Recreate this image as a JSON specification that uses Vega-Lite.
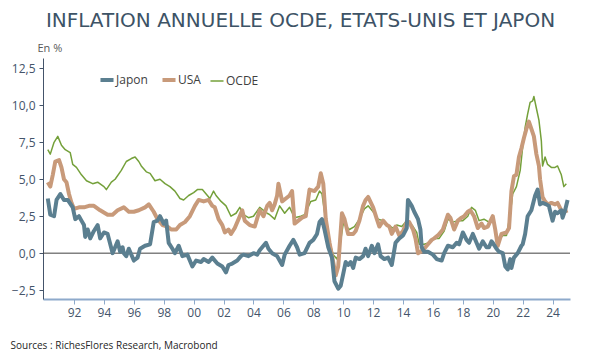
{
  "$schema": "https://vega.github.io/schema/vega-lite/v6.json",
  "width": 527,
  "height": 241,
  "autosize": {"type": "none"},
  "padding": {"left": 43, "top": 58, "right": 20, "bottom": 58},
  "background": "white",
  "title": {"text": "INFLATION ANNUELLE OCDE, ETATS-UNIS ET JAPON", "font": "DejaVu Sans", "fontSize": 20, "fontWeight": "normal", "color": "#3d5366", "anchor": "middle", "offset": 11, "dx": -6},
  "config": {
    "view": {"stroke": null},
    "font": "Open Sans",
    "axisX": {
      "labelOverlap": false,
      "titleX": -33, "titleY": 41, "titleAlign": "left", "titleAnchor": "start", "titleFontSize": 10, "titleFontWeight": "normal", "titleColor": "#262626", "titleFont": "Open Sans",
      "grid": false,
      "domainColor": "#8eaacb", "domainWidth": 2,
      "tickColor": "#8eaacb", "tickSize": 5, "tickWidth": 1,
      "labelColor": "#44546a", "labelFontSize": 12, "labelPadding": 3, "labelFont": "Open Sans"
    }
  },
  "datasets": {
    "series": [
      {"s":"Japon","d":"1990-04","v":3.7},{"s":"Japon","d":"1990-06","v":2.6},{"s":"Japon","d":"1990-09","v":2.5},{"s":"Japon","d":"1990-11","v":3.6},
      {"s":"Japon","d":"1991-02","v":4.0},{"s":"Japon","d":"1991-05","v":3.6},{"s":"Japon","d":"1991-08","v":3.6},{"s":"Japon","d":"1991-12","v":3.1},
      {"s":"Japon","d":"1992-02","v":2.3},{"s":"Japon","d":"1992-05","v":2.5},{"s":"Japon","d":"1992-07","v":2.2},{"s":"Japon","d":"1992-09","v":1.9},
      {"s":"Japon","d":"1992-10","v":1.1},{"s":"Japon","d":"1992-12","v":1.6},{"s":"Japon","d":"1993-02","v":1.0},{"s":"Japon","d":"1993-05","v":1.5},
      {"s":"Japon","d":"1993-08","v":1.9},{"s":"Japon","d":"1993-10","v":1.0},{"s":"Japon","d":"1994-01","v":1.4},{"s":"Japon","d":"1994-04","v":1.3},
      {"s":"Japon","d":"1994-08","v":0.0},{"s":"Japon","d":"1994-12","v":0.8},{"s":"Japon","d":"1995-02","v":0.1},{"s":"Japon","d":"1995-04","v":0.4},
      {"s":"Japon","d":"1995-05","v":0.0},{"s":"Japon","d":"1995-07","v":-0.2},{"s":"Japon","d":"1995-09","v":0.3},{"s":"Japon","d":"1996-01","v":-0.5},
      {"s":"Japon","d":"1996-04","v":-0.3},{"s":"Japon","d":"1996-06","v":0.3},{"s":"Japon","d":"1996-10","v":0.5},{"s":"Japon","d":"1997-02","v":0.6},
      {"s":"Japon","d":"1997-05","v":2.1},{"s":"Japon","d":"1997-08","v":2.2},{"s":"Japon","d":"1997-10","v":2.5},{"s":"Japon","d":"1998-01","v":2.0},
      {"s":"Japon","d":"1998-03","v":2.2},{"s":"Japon","d":"1998-05","v":0.7},{"s":"Japon","d":"1998-08","v":0.3},{"s":"Japon","d":"1998-10","v":0.0},
      {"s":"Japon","d":"1999-01","v":0.5},{"s":"Japon","d":"1999-04","v":-0.2},{"s":"Japon","d":"1999-08","v":-0.1},{"s":"Japon","d":"1999-12","v":-0.9},
      {"s":"Japon","d":"2000-03","v":-0.5},{"s":"Japon","d":"2000-07","v":-0.6},{"s":"Japon","d":"2000-09","v":-0.4},{"s":"Japon","d":"2001-01","v":-0.6},
      {"s":"Japon","d":"2001-04","v":-0.3},{"s":"Japon","d":"2001-08","v":-0.7},{"s":"Japon","d":"2001-12","v":-0.9},{"s":"Japon","d":"2002-03","v":-1.3},
      {"s":"Japon","d":"2002-05","v":-0.8},{"s":"Japon","d":"2002-08","v":-0.7},{"s":"Japon","d":"2002-12","v":-0.5},{"s":"Japon","d":"2003-03","v":-0.2},
      {"s":"Japon","d":"2003-05","v":-0.1},{"s":"Japon","d":"2003-09","v":-0.2},{"s":"Japon","d":"2004-01","v":0.0},{"s":"Japon","d":"2004-04","v":-0.1},
      {"s":"Japon","d":"2004-06","v":0.2},{"s":"Japon","d":"2004-11","v":0.7},{"s":"Japon","d":"2005-01","v":0.3},{"s":"Japon","d":"2005-04","v":0.0},
      {"s":"Japon","d":"2005-08","v":-0.2},{"s":"Japon","d":"2005-12","v":-0.8},{"s":"Japon","d":"2006-02","v":-0.1},{"s":"Japon","d":"2006-06","v":0.5},
      {"s":"Japon","d":"2006-09","v":0.9},{"s":"Japon","d":"2006-12","v":0.4},{"s":"Japon","d":"2007-02","v":-0.1},{"s":"Japon","d":"2007-06","v":0.0},
      {"s":"Japon","d":"2007-10","v":0.7},{"s":"Japon","d":"2008-01","v":0.9},{"s":"Japon","d":"2008-04","v":1.3},{"s":"Japon","d":"2008-06","v":2.1},
      {"s":"Japon","d":"2008-08","v":2.3},{"s":"Japon","d":"2008-10","v":1.6},{"s":"Japon","d":"2009-01","v":0.4},{"s":"Japon","d":"2009-04","v":-0.3},
      {"s":"Japon","d":"2009-06","v":-1.9},{"s":"Japon","d":"2009-09","v":-2.4},{"s":"Japon","d":"2009-11","v":-2.2},{"s":"Japon","d":"2010-01","v":-1.4},
      {"s":"Japon","d":"2010-03","v":-0.6},{"s":"Japon","d":"2010-05","v":-0.8},{"s":"Japon","d":"2010-07","v":-0.6},{"s":"Japon","d":"2010-09","v":-1.0},
      {"s":"Japon","d":"2010-11","v":-0.3},{"s":"Japon","d":"2011-02","v":-0.4},{"s":"Japon","d":"2011-05","v":-0.2},{"s":"Japon","d":"2011-07","v":0.3},
      {"s":"Japon","d":"2011-09","v":-0.2},{"s":"Japon","d":"2011-12","v":0.5},{"s":"Japon","d":"2012-02","v":0.0},{"s":"Japon","d":"2012-05","v":0.6},
      {"s":"Japon","d":"2012-07","v":-0.2},{"s":"Japon","d":"2012-10","v":-0.4},{"s":"Japon","d":"2013-01","v":-0.3},{"s":"Japon","d":"2013-04","v":-0.8},
      {"s":"Japon","d":"2013-07","v":0.7},{"s":"Japon","d":"2013-10","v":1.0},{"s":"Japon","d":"2014-01","v":1.2},{"s":"Japon","d":"2014-04","v":1.7},
      {"s":"Japon","d":"2014-05","v":3.6},{"s":"Japon","d":"2014-08","v":3.2},{"s":"Japon","d":"2014-10","v":2.8},{"s":"Japon","d":"2015-01","v":2.3},
      {"s":"Japon","d":"2015-03","v":1.6},{"s":"Japon","d":"2015-04","v":0.4},{"s":"Japon","d":"2015-06","v":0.1},{"s":"Japon","d":"2015-09","v":0.1},
      {"s":"Japon","d":"2016-01","v":-0.1},{"s":"Japon","d":"2016-04","v":-0.4},{"s":"Japon","d":"2016-08","v":-0.5},{"s":"Japon","d":"2016-10","v":0.0},
      {"s":"Japon","d":"2017-01","v":0.5},{"s":"Japon","d":"2017-05","v":0.4},{"s":"Japon","d":"2017-08","v":0.7},{"s":"Japon","d":"2017-10","v":0.6},
      {"s":"Japon","d":"2018-01","v":1.4},{"s":"Japon","d":"2018-04","v":0.9},{"s":"Japon","d":"2018-06","v":0.7},{"s":"Japon","d":"2018-09","v":1.3},
      {"s":"Japon","d":"2018-12","v":0.7},{"s":"Japon","d":"2019-02","v":0.3},{"s":"Japon","d":"2019-05","v":0.8},{"s":"Japon","d":"2019-08","v":0.4},
      {"s":"Japon","d":"2019-10","v":0.4},{"s":"Japon","d":"2019-12","v":0.8},{"s":"Japon","d":"2020-01","v":0.7},{"s":"Japon","d":"2020-04","v":0.3},
      {"s":"Japon","d":"2020-06","v":0.1},{"s":"Japon","d":"2020-09","v":0.0},{"s":"Japon","d":"2020-11","v":-0.9},{"s":"Japon","d":"2021-01","v":-1.1},
      {"s":"Japon","d":"2021-03","v":-0.4},{"s":"Japon","d":"2021-04","v":-1.0},{"s":"Japon","d":"2021-06","v":-0.3},{"s":"Japon","d":"2021-09","v":0.0},
      {"s":"Japon","d":"2021-12","v":0.5},{"s":"Japon","d":"2022-01","v":0.6},{"s":"Japon","d":"2022-03","v":1.3},{"s":"Japon","d":"2022-05","v":2.5},
      {"s":"Japon","d":"2022-08","v":2.9},{"s":"Japon","d":"2022-11","v":3.9},{"s":"Japon","d":"2023-01","v":4.3},{"s":"Japon","d":"2023-03","v":3.3},
      {"s":"Japon","d":"2023-05","v":3.4},{"s":"Japon","d":"2023-08","v":3.3},{"s":"Japon","d":"2023-10","v":3.2},{"s":"Japon","d":"2024-01","v":2.2},
      {"s":"Japon","d":"2024-03","v":2.8},{"s":"Japon","d":"2024-05","v":2.7},{"s":"Japon","d":"2024-08","v":2.9},{"s":"Japon","d":"2024-09","v":2.4},
      {"s":"Japon","d":"2024-11","v":2.9},{"s":"Japon","d":"2025-01","v":3.6},

      {"s":"USA","d":"1990-04","v":4.8},{"s":"USA","d":"1990-06","v":4.5},{"s":"USA","d":"1990-08","v":5.3},{"s":"USA","d":"1990-10","v":6.2},
      {"s":"USA","d":"1991-01","v":6.3},{"s":"USA","d":"1991-03","v":5.8},{"s":"USA","d":"1991-05","v":5.0},{"s":"USA","d":"1991-07","v":4.8},
      {"s":"USA","d":"1991-09","v":4.0},{"s":"USA","d":"1991-11","v":3.4},{"s":"USA","d":"1992-01","v":3.0},{"s":"USA","d":"1992-05","v":3.1},
      {"s":"USA","d":"1992-09","v":3.1},{"s":"USA","d":"1993-01","v":3.2},{"s":"USA","d":"1993-05","v":3.2},{"s":"USA","d":"1993-10","v":2.9},
      {"s":"USA","d":"1994-04","v":2.6},{"s":"USA","d":"1994-08","v":2.6},{"s":"USA","d":"1994-12","v":2.9},{"s":"USA","d":"1995-05","v":3.1},
      {"s":"USA","d":"1995-09","v":2.8},{"s":"USA","d":"1996-01","v":2.8},{"s":"USA","d":"1996-05","v":2.9},{"s":"USA","d":"1996-10","v":3.1},
      {"s":"USA","d":"1997-01","v":3.3},{"s":"USA","d":"1997-05","v":2.8},{"s":"USA","d":"1997-08","v":2.3},{"s":"USA","d":"1997-12","v":1.9},
      {"s":"USA","d":"1998-04","v":1.8},{"s":"USA","d":"1998-07","v":1.6},{"s":"USA","d":"1998-11","v":1.6},{"s":"USA","d":"1999-02","v":1.9},
      {"s":"USA","d":"1999-06","v":2.1},{"s":"USA","d":"1999-10","v":2.5},{"s":"USA","d":"2000-02","v":3.2},{"s":"USA","d":"2000-05","v":3.6},
      {"s":"USA","d":"2000-09","v":3.5},{"s":"USA","d":"2001-01","v":3.6},{"s":"USA","d":"2001-04","v":3.2},{"s":"USA","d":"2001-06","v":3.1},
      {"s":"USA","d":"2001-09","v":2.3},{"s":"USA","d":"2001-12","v":1.9},{"s":"USA","d":"2002-02","v":1.4},{"s":"USA","d":"2002-05","v":1.6},
      {"s":"USA","d":"2002-07","v":1.3},{"s":"USA","d":"2002-10","v":1.7},{"s":"USA","d":"2003-02","v":2.5},{"s":"USA","d":"2003-04","v":2.9},
      {"s":"USA","d":"2003-06","v":2.2},{"s":"USA","d":"2003-10","v":1.9},{"s":"USA","d":"2004-02","v":1.8},{"s":"USA","d":"2004-06","v":2.9},
      {"s":"USA","d":"2004-09","v":2.5},{"s":"USA","d":"2004-12","v":3.2},{"s":"USA","d":"2005-02","v":3.4},{"s":"USA","d":"2005-04","v":2.9},
      {"s":"USA","d":"2005-06","v":3.3},{"s":"USA","d":"2005-08","v":3.9},{"s":"USA","d":"2005-09","v":4.7},{"s":"USA","d":"2005-12","v":3.5},
      {"s":"USA","d":"2006-03","v":3.7},{"s":"USA","d":"2006-06","v":3.9},{"s":"USA","d":"2006-08","v":4.2},{"s":"USA","d":"2006-10","v":2.0},
      {"s":"USA","d":"2007-01","v":2.2},{"s":"USA","d":"2007-04","v":2.4},{"s":"USA","d":"2007-07","v":2.5},{"s":"USA","d":"2007-10","v":4.3},
      {"s":"USA","d":"2008-02","v":4.2},{"s":"USA","d":"2008-05","v":4.5},{"s":"USA","d":"2008-07","v":5.4},{"s":"USA","d":"2008-09","v":4.7},
      {"s":"USA","d":"2008-11","v":2.3},{"s":"USA","d":"2009-02","v":0.7},{"s":"USA","d":"2009-05","v":-0.6},{"s":"USA","d":"2009-07","v":-1.5},
      {"s":"USA","d":"2009-09","v":-0.9},{"s":"USA","d":"2009-12","v":2.7},{"s":"USA","d":"2010-02","v":2.3},{"s":"USA","d":"2010-05","v":1.3},
      {"s":"USA","d":"2010-09","v":1.3},{"s":"USA","d":"2010-11","v":1.5},{"s":"USA","d":"2011-02","v":2.2},{"s":"USA","d":"2011-05","v":3.2},
      {"s":"USA","d":"2011-07","v":3.6},{"s":"USA","d":"2011-09","v":3.8},{"s":"USA","d":"2012-01","v":3.1},{"s":"USA","d":"2012-04","v":2.3},
      {"s":"USA","d":"2012-06","v":1.8},{"s":"USA","d":"2012-09","v":2.2},{"s":"USA","d":"2012-12","v":1.9},{"s":"USA","d":"2013-02","v":1.8},
      {"s":"USA","d":"2013-04","v":1.3},{"s":"USA","d":"2013-07","v":1.8},{"s":"USA","d":"2013-10","v":1.2},{"s":"USA","d":"2014-01","v":1.5},
      {"s":"USA","d":"2014-04","v":2.1},{"s":"USA","d":"2014-06","v":2.1},{"s":"USA","d":"2014-09","v":1.6},{"s":"USA","d":"2014-11","v":1.0},
      {"s":"USA","d":"2015-01","v":0.0},{"s":"USA","d":"2015-05","v":0.2},{"s":"USA","d":"2015-09","v":0.6},{"s":"USA","d":"2015-12","v":0.9},
      {"s":"USA","d":"2016-02","v":1.0},{"s":"USA","d":"2016-05","v":1.2},{"s":"USA","d":"2016-09","v":1.6},{"s":"USA","d":"2017-01","v":2.6},
      {"s":"USA","d":"2017-03","v":2.4},{"s":"USA","d":"2017-06","v":1.6},{"s":"USA","d":"2017-09","v":2.2},{"s":"USA","d":"2017-12","v":2.4},
      {"s":"USA","d":"2018-02","v":2.5},{"s":"USA","d":"2018-05","v":2.8},{"s":"USA","d":"2018-07","v":2.9},{"s":"USA","d":"2018-10","v":2.5},
      {"s":"USA","d":"2019-01","v":1.7},{"s":"USA","d":"2019-04","v":2.0},{"s":"USA","d":"2019-06","v":1.7},{"s":"USA","d":"2019-09","v":1.8},
      {"s":"USA","d":"2020-01","v":2.5},{"s":"USA","d":"2020-03","v":1.6},{"s":"USA","d":"2020-05","v":0.5},{"s":"USA","d":"2020-08","v":1.3},
      {"s":"USA","d":"2020-12","v":1.4},{"s":"USA","d":"2021-02","v":1.7},{"s":"USA","d":"2021-04","v":4.2},{"s":"USA","d":"2021-06","v":5.2},
      {"s":"USA","d":"2021-08","v":5.3},{"s":"USA","d":"2021-10","v":6.5},{"s":"USA","d":"2021-12","v":7.1},{"s":"USA","d":"2022-02","v":7.8},
      {"s":"USA","d":"2022-04","v":8.4},{"s":"USA","d":"2022-06","v":8.9},{"s":"USA","d":"2022-08","v":8.4},{"s":"USA","d":"2022-10","v":7.9},
      {"s":"USA","d":"2022-12","v":6.7},{"s":"USA","d":"2023-02","v":5.9},{"s":"USA","d":"2023-03","v":5.0},{"s":"USA","d":"2023-05","v":3.8},
      {"s":"USA","d":"2023-07","v":3.5},{"s":"USA","d":"2023-09","v":3.3},{"s":"USA","d":"2023-12","v":3.4},{"s":"USA","d":"2024-03","v":3.3},
      {"s":"USA","d":"2024-05","v":3.4},{"s":"USA","d":"2024-08","v":2.9},{"s":"USA","d":"2024-10","v":2.8},{"s":"USA","d":"2025-01","v":2.9},

      {"s":"OCDE","d":"1990-04","v":7.0},{"s":"OCDE","d":"1990-06","v":6.7},{"s":"OCDE","d":"1990-09","v":7.5},{"s":"OCDE","d":"1990-12","v":7.9},
      {"s":"OCDE","d":"1991-03","v":7.3},{"s":"OCDE","d":"1991-06","v":7.0},{"s":"OCDE","d":"1991-10","v":6.8},{"s":"OCDE","d":"1991-12","v":6.0},
      {"s":"OCDE","d":"1992-03","v":5.8},{"s":"OCDE","d":"1992-07","v":5.3},{"s":"OCDE","d":"1992-11","v":4.9},{"s":"OCDE","d":"1993-04","v":4.7},
      {"s":"OCDE","d":"1993-08","v":4.8},{"s":"OCDE","d":"1994-01","v":4.5},{"s":"OCDE","d":"1994-03","v":4.3},{"s":"OCDE","d":"1994-07","v":4.8},
      {"s":"OCDE","d":"1994-10","v":5.0},{"s":"OCDE","d":"1995-03","v":5.6},{"s":"OCDE","d":"1995-07","v":6.2},{"s":"OCDE","d":"1995-11","v":6.4},
      {"s":"OCDE","d":"1996-02","v":6.5},{"s":"OCDE","d":"1996-05","v":6.2},{"s":"OCDE","d":"1996-07","v":5.9},{"s":"OCDE","d":"1996-11","v":5.5},
      {"s":"OCDE","d":"1997-02","v":5.4},{"s":"OCDE","d":"1997-06","v":4.9},{"s":"OCDE","d":"1997-10","v":5.0},{"s":"OCDE","d":"1998-02","v":4.7},
      {"s":"OCDE","d":"1998-06","v":4.5},{"s":"OCDE","d":"1998-10","v":4.2},{"s":"OCDE","d":"1999-02","v":3.7},{"s":"OCDE","d":"1999-05","v":3.6},
      {"s":"OCDE","d":"1999-09","v":3.9},{"s":"OCDE","d":"2000-01","v":4.1},{"s":"OCDE","d":"2000-04","v":4.3},{"s":"OCDE","d":"2000-08","v":4.3},
      {"s":"OCDE","d":"2000-10","v":4.1},{"s":"OCDE","d":"2001-02","v":3.7},{"s":"OCDE","d":"2001-05","v":4.2},{"s":"OCDE","d":"2001-07","v":3.9},
      {"s":"OCDE","d":"2001-11","v":3.5},{"s":"OCDE","d":"2002-03","v":3.2},{"s":"OCDE","d":"2002-07","v":2.5},{"s":"OCDE","d":"2002-11","v":2.7},
      {"s":"OCDE","d":"2003-02","v":3.1},{"s":"OCDE","d":"2003-05","v":2.6},{"s":"OCDE","d":"2003-09","v":2.4},{"s":"OCDE","d":"2004-01","v":2.5},
      {"s":"OCDE","d":"2004-06","v":3.1},{"s":"OCDE","d":"2004-09","v":2.9},{"s":"OCDE","d":"2004-12","v":2.7},{"s":"OCDE","d":"2005-02","v":2.6},
      {"s":"OCDE","d":"2005-06","v":2.3},{"s":"OCDE","d":"2005-10","v":3.2},{"s":"OCDE","d":"2006-02","v":2.7},{"s":"OCDE","d":"2006-06","v":3.1},
      {"s":"OCDE","d":"2006-10","v":2.4},{"s":"OCDE","d":"2007-03","v":2.5},{"s":"OCDE","d":"2007-06","v":2.6},{"s":"OCDE","d":"2007-11","v":3.5},
      {"s":"OCDE","d":"2008-03","v":3.6},{"s":"OCDE","d":"2008-06","v":4.2},{"s":"OCDE","d":"2008-08","v":4.0},{"s":"OCDE","d":"2008-10","v":2.8},
      {"s":"OCDE","d":"2008-12","v":1.4},{"s":"OCDE","d":"2009-03","v":0.5},{"s":"OCDE","d":"2009-05","v":-0.1},{"s":"OCDE","d":"2009-08","v":-0.4},
      {"s":"OCDE","d":"2009-10","v":0.3},{"s":"OCDE","d":"2010-01","v":2.0},{"s":"OCDE","d":"2010-06","v":1.6},{"s":"OCDE","d":"2010-10","v":1.8},
      {"s":"OCDE","d":"2011-02","v":2.3},{"s":"OCDE","d":"2011-06","v":3.0},{"s":"OCDE","d":"2011-09","v":3.2},{"s":"OCDE","d":"2012-01","v":2.8},
      {"s":"OCDE","d":"2012-05","v":2.3},{"s":"OCDE","d":"2012-09","v":2.2},{"s":"OCDE","d":"2013-01","v":1.9},{"s":"OCDE","d":"2013-05","v":1.7},
      {"s":"OCDE","d":"2013-08","v":1.9},{"s":"OCDE","d":"2013-12","v":1.8},{"s":"OCDE","d":"2014-04","v":2.2},{"s":"OCDE","d":"2014-07","v":2.0},
      {"s":"OCDE","d":"2014-09","v":1.8},{"s":"OCDE","d":"2014-12","v":1.4},{"s":"OCDE","d":"2015-02","v":0.6},{"s":"OCDE","d":"2015-06","v":0.6},
      {"s":"OCDE","d":"2015-10","v":0.7},{"s":"OCDE","d":"2016-02","v":1.0},{"s":"OCDE","d":"2016-06","v":1.0},{"s":"OCDE","d":"2016-10","v":1.5},
      {"s":"OCDE","d":"2017-01","v":2.3},{"s":"OCDE","d":"2017-05","v":2.1},{"s":"OCDE","d":"2017-09","v":2.2},{"s":"OCDE","d":"2018-01","v":2.2},
      {"s":"OCDE","d":"2018-05","v":2.5},{"s":"OCDE","d":"2018-08","v":3.1},{"s":"OCDE","d":"2018-11","v":2.9},{"s":"OCDE","d":"2019-02","v":2.2},
      {"s":"OCDE","d":"2019-06","v":2.3},{"s":"OCDE","d":"2019-10","v":2.1},{"s":"OCDE","d":"2020-01","v":2.4},{"s":"OCDE","d":"2020-05","v":0.8},
      {"s":"OCDE","d":"2020-09","v":1.2},{"s":"OCDE","d":"2020-12","v":1.2},{"s":"OCDE","d":"2021-03","v":2.6},{"s":"OCDE","d":"2021-05","v":4.0},
      {"s":"OCDE","d":"2021-08","v":4.5},{"s":"OCDE","d":"2021-11","v":5.6},{"s":"OCDE","d":"2022-01","v":7.2},{"s":"OCDE","d":"2022-03","v":8.5},
      {"s":"OCDE","d":"2022-05","v":9.4},{"s":"OCDE","d":"2022-07","v":10.2},{"s":"OCDE","d":"2022-09","v":10.3},{"s":"OCDE","d":"2022-10","v":10.6},
      {"s":"OCDE","d":"2022-12","v":9.8},{"s":"OCDE","d":"2023-02","v":9.0},{"s":"OCDE","d":"2023-04","v":7.6},{"s":"OCDE","d":"2023-05","v":5.9},
      {"s":"OCDE","d":"2023-07","v":6.5},{"s":"OCDE","d":"2023-09","v":6.0},{"s":"OCDE","d":"2023-12","v":5.8},{"s":"OCDE","d":"2024-03","v":5.8},
      {"s":"OCDE","d":"2024-05","v":5.9},{"s":"OCDE","d":"2024-08","v":5.3},{"s":"OCDE","d":"2024-10","v":4.5},{"s":"OCDE","d":"2024-12","v":4.7}
    ],
    "zero": [{"z": 0}]
  },
  "layer": [
    {
      "data": {"name": "zero"},
      "mark": {"type": "rule", "color": "#404040", "strokeWidth": 1},
      "encoding": {"y": {"field": "z", "type": "quantitative", "scale": {"domain": [-3.1, 13.2], "nice": false}}}
    },
    {
      "data": {"name": "series"},
      "transform": [{"filter": {"field": "s", "equal": "OCDE"}}],
      "mark": {"type": "line", "strokeJoin": "round", "strokeWidth": 1.5},
      "encoding": {
        "x": {"field": "d", "type": "temporal", "title": "Sources : RichesFlores Research, Macrobond", "axis": {"format": "%y", "labelOverlap": false, "values": [{"year":1992},{"year":1994},{"year":1996},{"year":1998},{"year":2000},{"year":2002},{"year":2004},{"year":2006},{"year":2008},{"year":2010},{"year":2012},{"year":2014},{"year":2016},{"year":2018},{"year":2020},{"year":2022},{"year":2024}]}},
        "y": {"field": "v", "type": "quantitative"},
        "color": {"field": "s", "type": "nominal"}
      }
    },
    {
      "data": {"name": "series"},
      "transform": [{"filter": {"field": "s", "equal": "USA"}}],
      "mark": {"type": "line", "strokeJoin": "round", "strokeWidth": 4},
      "encoding": {
        "x": {"field": "d", "type": "temporal", "title": "Sources : RichesFlores Research, Macrobond", "axis": {"format": "%y", "labelOverlap": false, "values": [{"year":1992},{"year":1994},{"year":1996},{"year":1998},{"year":2000},{"year":2002},{"year":2004},{"year":2006},{"year":2008},{"year":2010},{"year":2012},{"year":2014},{"year":2016},{"year":2018},{"year":2020},{"year":2022},{"year":2024}]}},
        "y": {"field": "v", "type": "quantitative"},
        "color": {"field": "s", "type": "nominal"}
      }
    },
    {
      "data": {"name": "series"},
      "transform": [{"filter": {"field": "s", "equal": "Japon"}}],
      "mark": {"type": "line", "strokeJoin": "round", "strokeWidth": 4},
      "encoding": {
        "x": {
          "field": "d", "type": "temporal", "title": "Sources : RichesFlores Research, Macrobond",
          "scale": {"domain": [{"year": 1989, "month": 12, "date": 5}, {"year": 2025, "month": 3, "date": 1}]},
          "axis": {"format": "%y", "labelOverlap": false, "values": [{"year":1992},{"year":1994},{"year":1996},{"year":1998},{"year":2000},{"year":2002},{"year":2004},{"year":2006},{"year":2008},{"year":2010},{"year":2012},{"year":2014},{"year":2016},{"year":2018},{"year":2020},{"year":2022},{"year":2024}]}
        },
        "y": {
          "field": "v", "type": "quantitative",
          "scale": {"domain": [-3.1, 13.2], "nice": false},
          "axis": {
            "title": "En %", "titleAngle": 0, "titleX": -6, "titleY": -7, "titleAlign": "left", "titleBaseline": "alphabetic", "titleFontSize": 11, "titleFontWeight": "normal", "titleColor": "#595959", "titleFont": "Open Sans",
            "values": [-2.5, 0, 2.5, 5, 7.5, 10, 12.5],
            "labelExpr": "replace(format(datum.value, '.1f'), '.', ',')",
            "grid": false,
            "domainColor": "#44546a", "domainWidth": 1,
            "tickColor": "#44546a", "tickSize": 4,
            "labelColor": "#44546a", "labelFontSize": 12, "labelPadding": 4, "labelFont": "Open Sans"
          }
        },
        "color": {
          "field": "s", "type": "nominal",
          "scale": {"domain": ["Japon", "USA", "OCDE"], "range": ["#5b7f90", "#c89a7a", "#74a03a"]},
          "legend": {
            "title": null, "orient": "none", "legendX": 58, "legendY": 16, "direction": "horizontal",
            "symbolType": "stroke", "symbolSize": 170, "labelFontSize": 12, "labelColor": "#404040", "labelFont": "Open Sans",
            "columnPadding": 6, "labelOffset": 3,
            "encode": {"symbols": {"update": {"strokeWidth": {"signal": "datum.value === 'OCDE' ? 1.5 : 4"}}}}
          }
        }
      }
    }
  ]
}
